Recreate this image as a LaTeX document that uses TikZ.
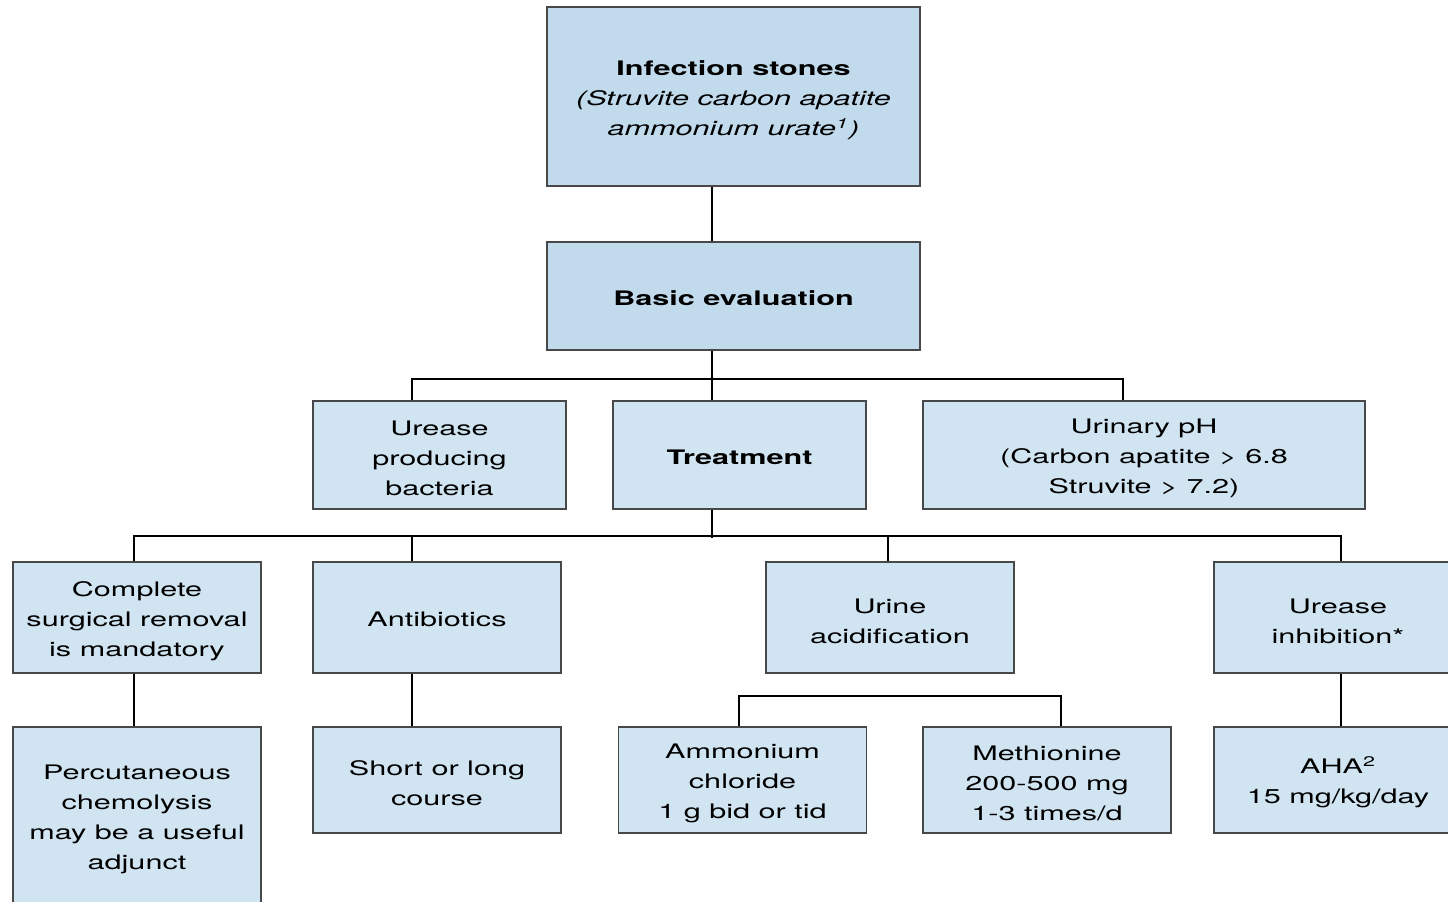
\documentclass[tikz,border=0pt]{standalone}
\usepackage{fontspec}
\setmainfont[FakeStretch=1.53]{TeX Gyre Heros}
\usepackage{tikz}
\usepackage{xcolor}
\usetikzlibrary{positioning,calc}
\definecolor{boxdark}{RGB}{193,219,237}
\definecolor{boxlight}{RGB}{209,228,242}
\definecolor{boxedge}{RGB}{72,72,72}
\newcommand{\lift}{\rule{0pt}{11pt}}
\newcommand{\liftone}{\rule{0pt}{9.2pt}}
\tikzset{
  basebox/.style={draw=boxedge, line width=0.75pt, align=center, inner sep=2pt,
    font=\fontsize{10}{15}\selectfont},
  topbox/.style={basebox, fill=boxdark, minimum width=186.5pt},
  stepbox/.style={basebox, fill=boxlight, minimum width=124pt, minimum height=55.5pt},
  link/.style={line width=1pt, black}
}

\begin{document}
\begin{tikzpicture}[x=0.5pt,y=-0.5pt]
        \clip (0,0) rectangle (1448,901);
        \fill[white] (0,0) rectangle (1448,901);
        % top of the tree
        \node[topbox, minimum height=89.5pt] (stones) at (733.5,96.5)
          {\lift\textbf{Infection stones}\\\textit{(Struvite carbon apatite}\\\textit{ammonium urate\textsuperscript{\scriptsize 1})}};
        \node[topbox, minimum height=54pt] (basic) at (733.5,296) {\liftone\textbf{Basic evaluation}};
        % second row
        \node[stepbox, minimum width=126.5pt, minimum height=54pt] (urease) at (439.5,455) {\lift Urease\\producing\\bacteria};
        \node[stepbox, minimum width=126.5pt, minimum height=54pt] (treat) at (739.5,455) {\liftone\textbf{Treatment}};
        \node[stepbox, minimum width=221pt, minimum height=54pt] (ph) at (1144,455) {\lift Urinary pH\\(Carbon apatite > 6.8\\Struvite > 7.2)};
        % third row
        \node[stepbox] (surgery) at (137,617.5) {\lift Complete\\surgical removal\\is mandatory};
        \node[stepbox] (antibio) at (437,617.5) {\liftone Antibiotics};
        \node[stepbox] (acid) at (890,617.5) {\lift Urine\\acidification};
        \node[stepbox] (inhib) at (1338,617.5) {\lift Urease\\inhibition*};
        % fourth row
        \node[stepbox, minimum height=89pt] (chemo) at (137,816) {\lift Percutaneous\\chemolysis\\may be a useful\\adjunct};
        \node[stepbox, minimum height=53pt] (course) at (437,780) {\lift Short or long\\course};
        \node[stepbox, minimum height=53pt] (ammon) at (742.5,780) {\lift Ammonium\\chloride\\1 g bid or tid};
        \node[stepbox, minimum height=53pt] (methio) at (1047,780) {\lift Methionine\\200-500 mg\\1-3 times/d};
        \node[stepbox, minimum height=53pt] (aha) at (1338,780) {\lift AHA\textsuperscript{\scriptsize 2}\\15 mg/kg/day};
        % connectors
        \draw[link] (stones.south -| 712,0) -- (basic.north -| 712,0);
        \draw[link] (basic.south -| 712,0) -- (treat.north -| 712,0);
        \draw[link] (urease.north -| 412,0) -- ++(0,-21) -| (ph.north -| 1123,0);
        \draw[link] (treat.south -| 712,0) -- ++(0,28);
        \draw[link] (surgery.north -| 134,0) -- ++(0,-25) -| (inhib.north -| 1341,0);
        \draw[link] (antibio.north -| 412,0) -- ++(0,-25);
        \draw[link] (acid.north -| 888,0) -- ++(0,-25);
        \draw[link] (surgery.south -| 134,0) -- (chemo.north -| 134,0);
        \draw[link] (antibio.south -| 412,0) -- (course.north -| 412,0);
        \draw[link] (inhib.south -| 1341,0) -- (aha.north -| 1341,0);
        \draw[link] (ammon.north -| 739,0) -- ++(0,-30) -| (methio.north -| 1061,0);
      \end{tikzpicture}
\end{document}
